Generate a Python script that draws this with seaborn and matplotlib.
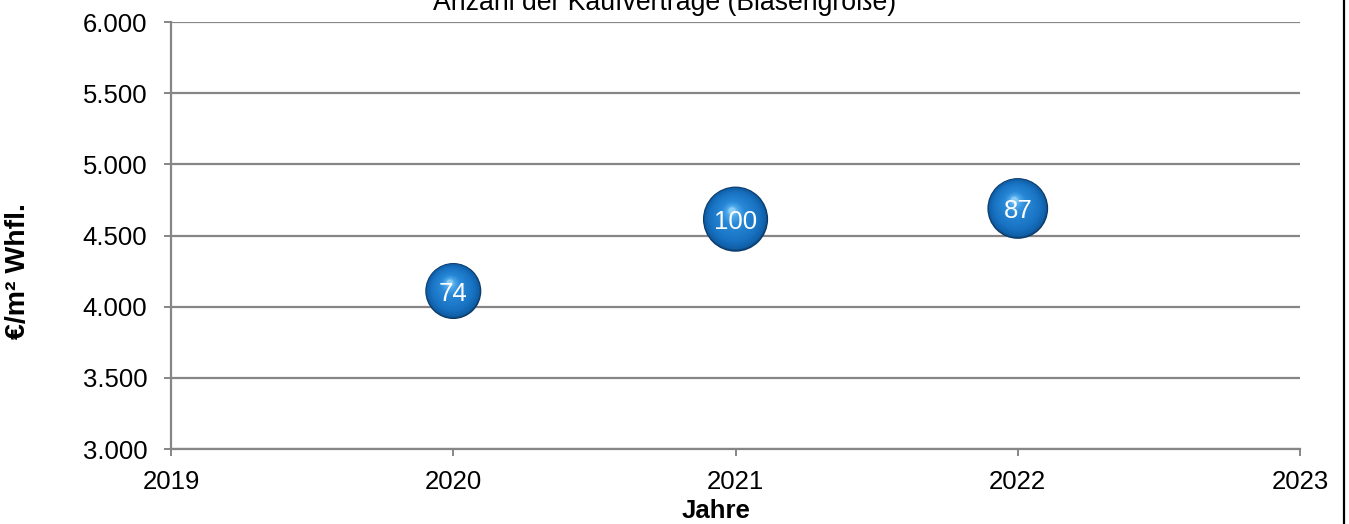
import matplotlib
matplotlib.use("Agg")
import matplotlib.pyplot as plt
import matplotlib.transforms as mtransforms
from matplotlib.colors import LinearSegmentedColormap
from matplotlib.lines import Line2D
from matplotlib.ticker import FuncFormatter, MultipleLocator
import seaborn as sns
import pandas as pd

# Data: year, average price per m² living area, number of sales contracts
years = [2020, 2021, 2022]
prices = [4110, 4615, 4690]
contracts = [74, 100, 87]

x_ticks = [2019, 2020, 2021, 2022, 2023]

df = pd.DataFrame({"Jahr": years, "Preis": prices, "Anzahl": contracts})

sns.set_theme(style="white")
plt.rcParams["font.family"] = ["Liberation Sans", "DejaVu Sans"]
plt.rcParams["text.color"] = "black"

fig = plt.figure(figsize=(13.49, 5.24), dpi=100)
ax = fig.add_axes([0.1268, 0.1431, 0.8369, 0.8149])

# Bubble area proportional to the number of contracts; stacked discs give a glossy sphere look
max_area = 2200
sphere = LinearSegmentedColormap.from_list(
    "sphere",
    [(0.0, "#0a3866"), (0.05, "#105ea6"), (0.25, "#1872c2"),
     (0.7, "#2888d7"), (0.92, "#4fa9ea"), (1.0, "#8ccdf6")],
)
n_layers = 30
for i in range(n_layers):
    t = i / (n_layers - 1)
    scale = (1 - 0.9 * t) ** 2
    tr = mtransforms.offset_copy(ax.transData, fig=fig, x=-2.5 * t, y=6.0 * t, units="points")
    sns.scatterplot(
        data=df, x="Jahr", y="Preis", size="Anzahl",
        sizes=(0, max_area * scale), size_norm=(0, 100),
        color=sphere(t), edgecolor="none", linewidth=0, legend=False,
        ax=ax, transform=tr, zorder=3,
    )

label_tr = mtransforms.offset_copy(ax.transData, fig=fig, x=0, y=-2, units="points")
for yr, pr, n in zip(years, prices, contracts):
    ax.text(yr, pr, str(n), color="white", fontsize=18.5, ha="center", va="center",
            transform=label_tr, zorder=5)

ax.set_xlim(x_ticks[0], x_ticks[-1])
ax.set_ylim(3000, 6000)
ax.set_xticks(x_ticks)
ax.yaxis.set_major_locator(MultipleLocator(500))
ax.yaxis.set_major_formatter(FuncFormatter(lambda v, p: f"{v:,.0f}".replace(",", ".")))
ax.xaxis.set_major_formatter(FuncFormatter(lambda v, p: f"{v:.0f}"))

ax.grid(axis="y", color="#868686", linewidth=1.6)
ax.grid(axis="x", visible=False)
ax.set_axisbelow(True)
for side in ["top", "right"]:
    ax.spines[side].set_visible(False)
for side in ["left", "bottom"]:
    ax.spines[side].set_color("#868686")
    ax.spines[side].set_linewidth(1.6)

ax.tick_params(axis="y", left=True, length=5, width=1.4, color="#868686", pad=12, labelsize=18.5, labelcolor="black")
ax.tick_params(axis="x", bottom=True, length=5, width=1.4, color="#868686", pad=10, labelsize=18.5, labelcolor="black")
ax.set_xlabel("")
ax.set_ylabel("")

fig.text(0.493, 0.994, "Anzahl der Kaufverträge (Blasengröße)", fontsize=19.2, ha="center", va="center", color="black")
fig.text(0.531, 0.025, "Jahre", fontsize=18.5, fontweight="bold", ha="center", va="center", color="black")
fig.text(0.013, 0.483, "€/m² Whfl.", fontsize=20.5, fontweight="bold", rotation=90, ha="center", va="center", color="black")

fig.add_artist(Line2D([0.9965, 0.9965], [0, 1], transform=fig.transFigure, color="black", linewidth=1.6))

fig.savefig("out.png", dpi=100)
